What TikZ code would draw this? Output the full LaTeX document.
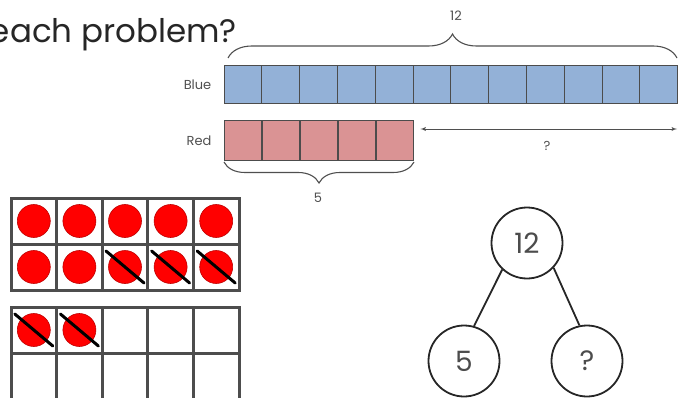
\documentclass[tikz,border=0pt]{standalone}
\usepackage{fontspec}
\setmainfont{Poppins}
\usepackage{tikz}
\usetikzlibrary{positioning,arrows,decorations.pathreplacing}
\usepackage{xcolor}
\definecolor{barblue}{HTML}{93B1D7}
\definecolor{barred}{HTML}{DA9394}
\definecolor{framegray}{HTML}{4D4D4D}
\definecolor{inkgray}{HTML}{4F4F4F}
\tikzstyle{cellB} = [rectangle, draw=black!70, fill=barblue, minimum width=37.8pt, minimum height=38pt, inner sep=0pt, line width=1pt]
\tikzstyle{cellR} = [cellB, fill=barred, minimum height=40pt]
\tikzstyle{lbl} = [text=inkgray, font=\fontsize{13}{15}\selectfont, inner sep=1pt]
\tikzstyle{brace} = [draw=inkgray, line width=1.1pt, decorate, decoration={brace, amplitude=24pt}]
\tikzstyle{dbl} = [draw=inkgray, line width=0.9pt, latex'-latex']
\tikzstyle{cellF} = [rectangle, draw=framegray, line width=3pt, minimum width=45.6pt, minimum height=46pt, inner sep=0pt]
\tikzstyle{counter} = [circle, draw=red!75!black, line width=0.6pt, fill=red, minimum size=33pt, inner sep=0pt]
\tikzstyle{slash} = [draw=black, line width=3pt, line cap=round]
\tikzstyle{bond} = [circle, draw=black!85, line width=1.8pt, minimum size=71pt, inner sep=0pt, text=black!70, font=\fontsize{28}{30}\selectfont]

\begin{document}
\begin{tikzpicture}[x=1pt, y=-1pt]
  	\useasboundingbox (0,0) rectangle (679,398);
  	%% question line
  	\node[anchor=base east, text=black!85, font=\fontsize{32.5}{38}\selectfont, inner sep=0pt] (Q) at (237,43) {each problem?};
  	%% Blue bar
  	\foreach \i in {1,...,12}
  	  \node[cellB] (B\i) at ({224+37.8*(\i-0.5)},85) {};
  	%% Red bar
  	\foreach \i in {1,...,5}
  	  \node[cellR] (R\i) at ({224+38*(\i-0.5)},141) {};
  	\node[lbl, left=11pt of B1] (Blue) {Blue};
  	\node[lbl, left=11pt of R1] (Red) {Red};
  	%% total brace
  	\node[lbl] (total) at (456,16) {12};
  	\draw[brace] (228,58) -- (677,58);
  	%% part brace
  	\draw[brace, decoration={amplitude=21pt}] (414,162) -- (224,162);
  	\node[lbl] (part) at (318,198) {5};
  	%% unknown part
  	\coordinate[right=6pt of R5] (gapL);
  	\coordinate (gapR) at (677,129);
  	\path[dbl] (gapL |- gapR) -- (gapR);
  	\node[lbl] (miss) at (547,146) {?};
  	%% ten frames
  	\foreach \c in {0,...,4}{
  	  \node[cellF] (F0\c) at ({33.8+45.6*\c},221) {};
  	  \node[cellF] (F1\c) at ({33.8+45.6*\c},267) {};
  	  \node[cellF] (G0\c) at ({33.8+45.6*\c},330) {};
  	  \node[cellF] (G1\c) at ({33.8+45.6*\c},376) {};
  	}
  	%% counters
  	\foreach \c in {0,...,4}{
  	  \node[counter] at (F0\c) {};
  	  \node[counter] at (F1\c) {};
  	}
  	\foreach \c in {0,1}
  	  \node[counter] at (G0\c) {};
  	%% taken away
  	\foreach \f in {F12,F13,F14,G00,G01}
  	  \path[slash] (\f) +(-19,-16) -- +(19,16);
  	%% number bond
  	\node[bond] (whole) at (527,243) {12};
  	\node[bond] (partA) at (464,361) {5};
  	\node[bond] (partB) at (587,361) {?};
  	\draw[line width=1.8pt, black!85] (whole.227) -- (partA.74);
  	\draw[line width=1.8pt, black!85] (whole.317) -- (partB.102);
\end{tikzpicture}
\end{document}
